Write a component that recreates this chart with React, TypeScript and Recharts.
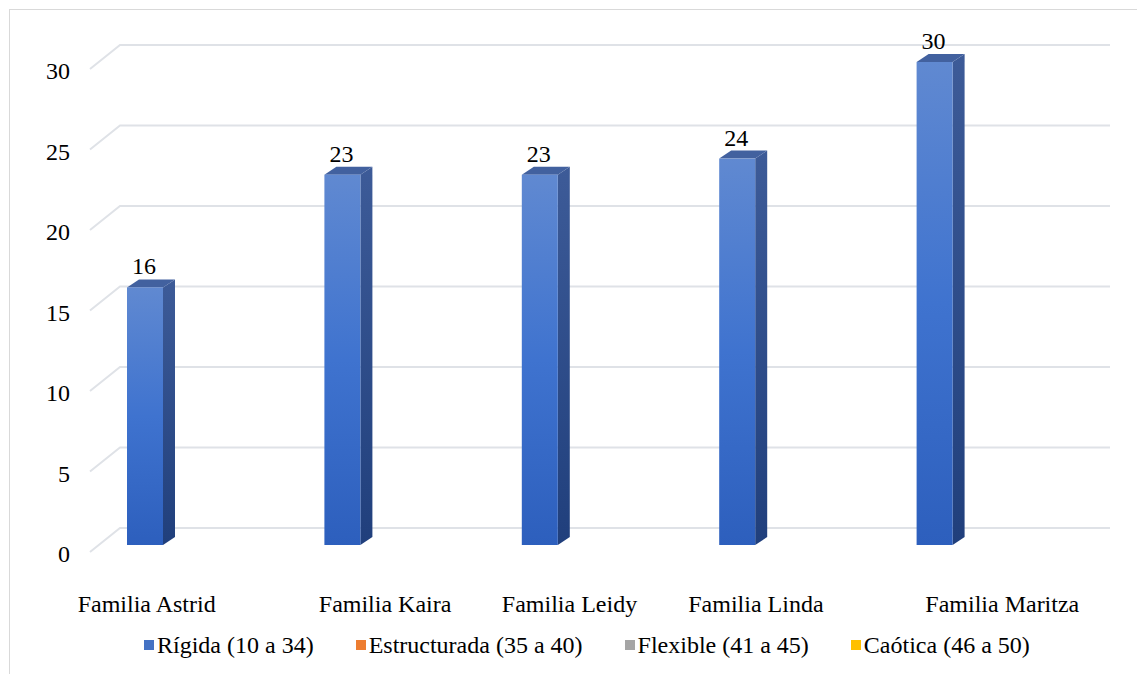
import { BarChart, Bar, XAxis, YAxis, CartesianGrid, LabelList, Legend } from "recharts";

const CATEGORIES = ["Familia Astrid", "Familia Kaira", "Familia Leidy", "Familia Linda", "Familia Maritza"];
const RIGIDA = [16, 23, 23, 24, 30];
const Y_TICKS = [0, 5, 10, 15, 20, 25, 30];
const SERIES_NAMES = ["Rígida (10 a 34)", "Estructurada (35 a 40)", "Flexible (41 a 45)", "Caótica (46 a 50)"];
const SERIES_COLORS = ["#4472C4", "#ED7D31", "#A5A5A5", "#FFC000"];

const data = CATEGORIES.map((name, i) => ({ name, rigida: RIGIDA[i] }));

const FONT = "Liberation Serif, DejaVu Serif, Times New Roman, serif";
// excel's 3d layout puts the category labels off-center
const LABEL_SHIFT = [2, 43, 30, 19, 68];
const DEPTH_X = 12;
const DEPTH_Y = 8;

const Box3D = (props: any) => {
  const { x, y, width, height } = props;
  if (!height) return null;
  return (
    <g>
      <polygon
        points={`${x + width},${y} ${x + width + DEPTH_X},${y - DEPTH_Y} ${x + width + DEPTH_X},${y + height - DEPTH_Y} ${x + width},${y + height}`}
        fill="url(#sideGrad)"
      />
      <polygon
        points={`${x},${y} ${x + DEPTH_X},${y - DEPTH_Y} ${x + width + DEPTH_X},${y - DEPTH_Y} ${x + width},${y}`}
        fill="#42619f"
      />
      <rect x={x} y={y} width={width} height={height} fill="url(#frontGrad)" />
    </g>
  );
};

const GridLine = (props: any) => {
  const { y1 } = props;
  return (
    <path
      d={`M80,${y1 + 7} L110,${y1 - 17} L1100,${y1 - 17}`}
      fill="none"
      stroke="#dfe2e7"
      strokeWidth={2}
    />
  );
};

const YTick = (props: any) => (
  <text x={60} y={props.y + 9} textAnchor="end" dominantBaseline="central" style={{ fontFamily: FONT }} fontSize={24} fill="#000">
    {props.payload.value}
  </text>
);

const XTick = (props: any) => (
  <text
    x={props.x + LABEL_SHIFT[props.index]}
    y={props.y + 51}
    textAnchor="middle"
    dominantBaseline="central"
    style={{ fontFamily: FONT }}
    fontSize={24}
    fill="#000"
  >
    {props.payload.value}
  </text>
);

const ValueLabel = (props: any) => {
  const { x, y, width, value } = props;
  return (
    <text x={x + width / 2 - 1} y={y - 21} textAnchor="middle" dominantBaseline="central" style={{ fontFamily: FONT }} fontSize={24} fill="#000">
      {value}
    </text>
  );
};

const LegendBox = () => (
  <div style={{ display: "flex", alignItems: "center", fontFamily: FONT, fontSize: 24, lineHeight: "28px", whiteSpace: "nowrap" }}>
    {SERIES_NAMES.map((name, i) => (
      <div key={name} style={{ display: "flex", alignItems: "center", marginRight: 42 }}>
        <span style={{ width: 10, height: 10, background: SERIES_COLORS[i], marginRight: 3, display: "inline-block" }} />
        <span>{name}</span>
      </div>
    ))}
  </div>
);

export default function App() {
  return (
    <div style={{ width: 1140, height: 670, border: "1px solid #d9d9d9", margin: "1px 0 0 1px", background: "#fff", fontFamily: FONT }}>
      <BarChart width={1134} height={662} data={data} margin={{ top: 52, right: 111, bottom: 97, left: 0 }} style={{ fontFamily: FONT }}>
        <defs>
          <linearGradient id="frontGrad" x1="0" y1="0" x2="0" y2="1">
            <stop offset="0%" stopColor="#6089d1" />
            <stop offset="50%" stopColor="#3f73cf" />
            <stop offset="100%" stopColor="#2d5fbd" />
          </linearGradient>
          <linearGradient id="sideGrad" x1="0" y1="0" x2="0" y2="1">
            <stop offset="0%" stopColor="#3d5b98" />
            <stop offset="100%" stopColor="#203f7c" />
          </linearGradient>
        </defs>
        <CartesianGrid vertical={false} horizontal={GridLine} />
        <XAxis dataKey="name" axisLine={false} tickLine={false} tick={XTick} interval={0} />
        <YAxis width={36} domain={[0, 30]} ticks={Y_TICKS} axisLine={false} tickLine={false} tick={YTick} />
        <Legend
          verticalAlign="middle"
          layout="horizontal"
          content={() => <LegendBox />}
          wrapperStyle={{ left: 134, top: 621, width: "auto", height: 28 }}
        />
        <Bar dataKey="rigida" name={SERIES_NAMES[0]} barSize={36} shape={Box3D} isAnimationActive={false}>
          <LabelList dataKey="rigida" content={ValueLabel} />
        </Bar>
      </BarChart>
    </div>
  );
}
